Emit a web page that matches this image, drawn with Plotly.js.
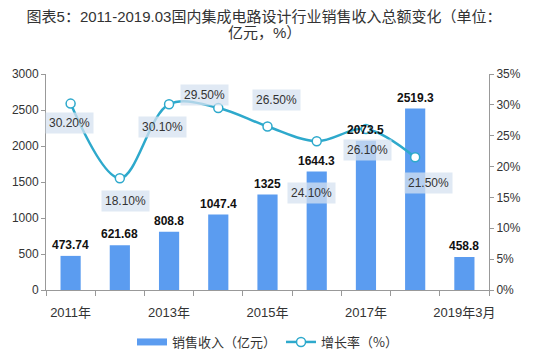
<!DOCTYPE html>
<html>
<head>
<meta charset="utf-8">
<script src="https://cdn.plot.ly/plotly-3.0.1.min.js"></script>
<style>html,body{margin:0;padding:0;background:#fff;}#chart{width:545px;height:359px;}</style>
</head>
<body>
<div id="chart"></div>
<script>
// ---- data ----
var categories = ["2011年","2012年","2013年","2014年","2015年","2016年","2017年","2018年","2019年3月"];
var tickLabels = ["2011年","","2013年","","2015年","","2017年","","2019年3月"];
var revenue = [473.74, 621.68, 808.8, 1047.4, 1325, 1644.3, 2073.5, 2519.3, 458.8];
var revenueLabels = ["473.74","621.68","808.8","1047.4","1325","1644.3","2073.5","2519.3","458.8"];
var growthCategories = ["2011年","2012年","2013年","2014年","2015年","2016年","2017年","2018年"];
var growth = [30.2, 18.1, 30.1, 29.5, 26.5, 24.1, 26.1, 21.5];
var growthLabels = ["30.20%","18.10%","30.10%","29.50%","26.50%","24.10%","26.10%","21.50%"];
var titleLine1 = "图表5：2011-2019.03国内集成电路设计行业销售收入总额变化（单位：";
var titleLine2 = "亿元，%）";
var seriesNames = ["销售收入（亿元）", "增长率（%）"];

// ---- styling (pixel offsets for growth label boxes) ----
var growthLabelShift = [[-1,-19],[6,-23],[-7,-23],[-14,13],[9,26],[-5,-52],[2,-21],[13,-26]];

var FONT = "Liberation Sans, Arial, Noto Sans CJK SC, sans-serif";
var CJK = "Noto Sans CJK SC, Liberation Sans, sans-serif";
var BAR_COLOR = "#5b9cf0";
var LINE_COLOR = "#2ea9cc";

var traces = [
  {
    type: "bar", name: seriesNames[0], x: categories, y: revenue,
    width: 0.41, marker: {color: BAR_COLOR}, hoverinfo: "skip", showlegend: false
  },
  {
    // legend-only entry giving the wide flat swatch of the reference
    type: "scatter", mode: "lines", name: seriesNames[0], x: [null], y: [null],
    line: {color: BAR_COLOR, width: 7}, hoverinfo: "skip", showlegend: true
  },
  {
    type: "scatter", mode: "lines+markers", name: seriesNames[1],
    x: growthCategories, y: growth, yaxis: "y2",
    line: {color: LINE_COLOR, width: 2.5, shape: "spline", smoothing: 1},
    marker: {symbol: "circle", size: 9, color: "#ffffff", line: {color: LINE_COLOR, width: 1.5}},
    hoverinfo: "skip"
  }
];

var annotations = [];
for (var i = 0; i < categories.length; i++) {
  annotations.push({
    x: categories[i], y: revenue[i], xref: "x", yref: "y",
    text: "<b>" + revenueLabels[i] + "</b>", showarrow: false,
    yanchor: "bottom", yshift: 2,
    font: {family: FONT, size: 12, color: "#111111"}
  });
}
for (var j = 0; j < growthCategories.length; j++) {
  annotations.push({
    x: growthCategories[j], y: growth[j], xref: "x", yref: "y2",
    text: growthLabels[j], showarrow: false,
    xshift: growthLabelShift[j][0], yshift: growthLabelShift[j][1],
    bgcolor: "rgba(214,226,240,0.75)", borderpad: 3,
    font: {family: FONT, size: 12, color: "#333333"}
  });
}
annotations.push({
  xref: "paper", yref: "paper", x: (264 - 46) / 443, y: (290 - 33) / 216,
  xanchor: "center", yanchor: "middle", showarrow: false,
  text: titleLine2, font: {family: FONT, size: 15, color: "#333333"}
});

var layout = {
  width: 545, height: 359,
  margin: {l: 46, r: 56, t: 74, b: 69, pad: 0, autoexpand: false},
  paper_bgcolor: "#ffffff", plot_bgcolor: "#ffffff",
  font: {family: FONT, size: 12, color: "#333333"},
  title: {
    text: titleLine1, x: 264 / 545, xanchor: "center", xref: "container",
    y: 1 - 17 / 359, yanchor: "middle", yref: "container",
    font: {family: FONT, size: 15, color: "#333333"}
  },
  showlegend: true,
  legend: {
    orientation: "h", x: 0.5, xanchor: "center",
    yref: "container", y: 1 - 342 / 359, yanchor: "middle",
    font: {family: CJK, size: 13, color: "#333333"}, itemwidth: 30,
    traceorder: "normal"
  },
  xaxis: {
    type: "category", categoryorder: "array", categoryarray: categories,
    range: [-0.5, 8.5], automargin: false,
    tickmode: "array", tickvals: categories, ticktext: tickLabels, tickangle: 0,
    tickson: "boundaries", ticks: "outside", ticklen: 5, tickcolor: "#999999",
    ticklabelstandoff: 10,
    showline: true, linecolor: "#999999", linewidth: 1,
    showgrid: false, zeroline: false,
    tickfont: {family: FONT, size: 13, color: "#333333"}
  },
  yaxis: {
    range: [0, 3000], dtick: 500, tick0: 0, automargin: false,
    ticks: "outside", ticklen: 4, tickcolor: "#999999",
    showline: true, linecolor: "#999999", linewidth: 1,
    showgrid: false, zeroline: false,
    tickfont: {family: FONT, size: 12, color: "#333333"}
  },
  yaxis2: {
    overlaying: "y", side: "right", range: [0, 35], dtick: 5, tick0: 0, automargin: false,
    ticksuffix: "%", ticks: "outside", ticklen: 4, tickcolor: "#999999",
    showline: true, linecolor: "#999999", linewidth: 1,
    showgrid: false, zeroline: false,
    tickfont: {family: FONT, size: 12, color: "#333333"}
  },
  annotations: annotations
};

Plotly.newPlot("chart", traces, layout, {displayModeBar: false, staticPlot: true});
</script>
</body>
</html>
